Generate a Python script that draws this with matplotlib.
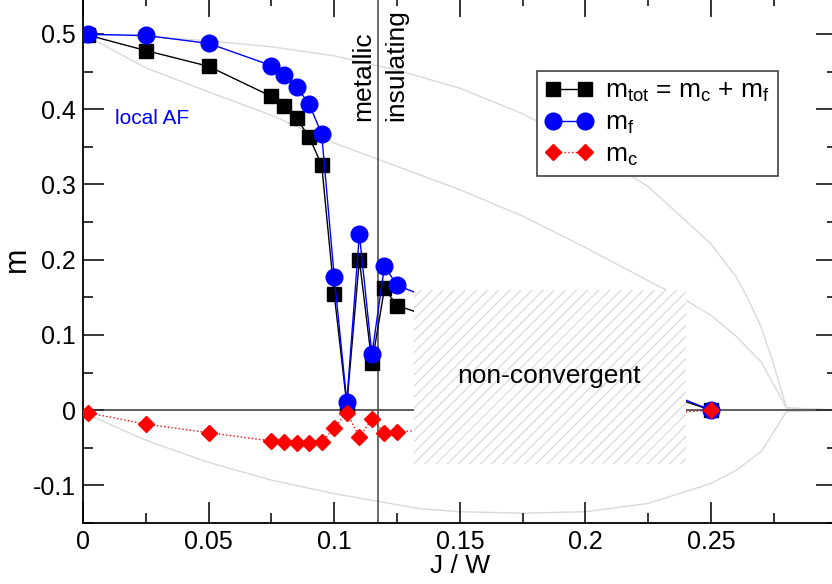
import matplotlib
matplotlib.use("Agg")
import matplotlib.pyplot as plt
from matplotlib.patches import Rectangle
from matplotlib.ticker import MultipleLocator

plt.rcParams['font.family'] = ['Liberation Sans', 'DejaVu Sans']
plt.rcParams['mathtext.fontset'] = 'custom'
plt.rcParams['mathtext.rm'] = 'Liberation Sans'
plt.rcParams['mathtext.it'] = 'Liberation Sans'
plt.rcParams['hatch.linewidth'] = 0.8

# Datenpunkte (J/W und Magnetisierungen)
J = [0.002, 0.025, 0.05, 0.075, 0.08, 0.085, 0.09, 0.095, 0.1, 0.105, 0.11,
     0.115, 0.12, 0.125, 0.25]
m_tot = [0.4985, 0.478, 0.457, 0.417, 0.404, 0.388, 0.363, 0.326, 0.154, 0.007,
         0.200, 0.062, 0.162, 0.139, 0.0]
m_f = [0.4995, 0.498, 0.4875, 0.458, 0.4455, 0.4295, 0.407, 0.367, 0.177, 0.011,
       0.234, 0.074, 0.1915, 0.166, 0.0]
m_c = [-0.0036, -0.0186, -0.030, -0.041, -0.042, -0.0435, -0.0443, -0.043, -0.0235,
       -0.0035, -0.0355, -0.012, -0.030, -0.029, 0.0]

# graue Hintergrundkurven
g1_x = [0.0, 0.025, 0.05, 0.075, 0.1, 0.125, 0.15, 0.175, 0.2, 0.225, 0.25, 0.26,
        0.265, 0.27, 0.275, 0.28, 0.3]
g1_y = [0.5, 0.497, 0.491, 0.483, 0.471, 0.452, 0.428, 0.394, 0.35, 0.297, 0.221,
        0.177, 0.146, 0.11, 0.06, 0.003, 0.0]
g2_x = [0.0, 0.025, 0.05, 0.075, 0.1, 0.125, 0.15, 0.175, 0.2, 0.225, 0.24, 0.25,
        0.26, 0.27, 0.28, 0.3]
g2_y = [0.5, 0.455, 0.423, 0.392, 0.355, 0.324, 0.293, 0.258, 0.216, 0.172, 0.146,
        0.126, 0.098, 0.064, 0.003, 0.0]
g3_x = [0.0, 0.025, 0.05, 0.075, 0.1, 0.117, 0.134, 0.15, 0.175, 0.2, 0.225, 0.25,
        0.26, 0.27, 0.28, 0.3]
g3_y = [-0.003, -0.040, -0.0696, -0.093, -0.111, -0.121, -0.131, -0.135, -0.137,
        -0.135, -0.124, -0.0975, -0.080, -0.055, -0.002, 0.0]

fig = plt.figure(figsize=(8.32, 5.84), dpi=100)
ax = fig.add_axes([0.0998, 0.1045, 0.9058, 0.9017])

grau = '#d9d9d9'
ax.plot(g1_x, g1_y, color=grau, lw=1, zorder=1)
ax.plot(g2_x, g2_y, color=grau, lw=1, zorder=1)
ax.plot(g3_x, g3_y, color=grau, lw=1, zorder=1)

ax.axhline(0, color='#333333', lw=1.1, zorder=2)
ax.axvline(0.1175, color='#444444', lw=1.1, zorder=2)

ax.plot(J, m_tot, 'ks-', lw=1, ms=10, zorder=3,
        label=r'$\mathregular{m_{tot}}$ = $\mathregular{m_c}$ + $\mathregular{m_f}$')
ax.plot(J, m_f, 'o-', color='blue', lw=1, ms=12, zorder=4,
        label=r'$\mathregular{m_f}$')
ax.plot(J, m_c, 'D:', color='red', lw=1, ms=8.5, zorder=5,
        label=r'$\mathregular{m_c}$')

# schraffierter Bereich
box = Rectangle((0.1319, -0.071), 0.240 - 0.1319, 0.231, facecolor='white',
                edgecolor='#d6d6d6', hatch='///', lw=0, zorder=6)
ax.add_patch(box)
ax.text(0.1855, 0.036, 'non-convergent', fontsize=19, ha='center',
        va='baseline', zorder=7)

ax.text(0.0274, 0.380, 'local AF', color='blue', fontsize=15, ha='center',
        va='baseline')
ax.text(0.1142, 0.384, 'metallic', fontsize=19, rotation=90,
        rotation_mode='anchor', ha='left', va='baseline')
ax.text(0.1275, 0.384, 'insulating', fontsize=19, rotation=90,
        rotation_mode='anchor', ha='left', va='baseline')

ax.set_xlim(0, 0.3)
ax.set_ylim(-0.15, 0.55)
ax.xaxis.set_minor_locator(MultipleLocator(0.025))
ax.yaxis.set_minor_locator(MultipleLocator(0.05))
ax.set_xticks([0, 0.05, 0.1, 0.15, 0.2, 0.25])
ax.set_xticklabels(['0', '0.05', '0.1', '0.15', '0.2', '0.25'])
ax.set_yticks([-0.1, 0, 0.1, 0.2, 0.3, 0.4, 0.5])
ax.set_yticklabels(['-0.1', '0', '0.1', '0.2', '0.3', '0.4', '0.5'])
ax.tick_params(which='both', direction='in', top=True, right=True,
               labelsize=18, width=1.1)
ax.tick_params(which='major', length=15)
ax.tick_params(which='minor', length=7)
ax.tick_params(axis='x', which='major', pad=5)
ax.tick_params(axis='y', which='major', pad=5)
for s in ax.spines.values():
    s.set_linewidth(1.3)

ax.set_xlabel('J / W', fontsize=19, labelpad=0)
ax.set_ylabel('m', fontsize=22)
ax.yaxis.set_label_coords(-0.068, 0.5)

leg = ax.legend(loc='upper left', bbox_to_anchor=(0.603, 0.858),
                borderaxespad=0, numpoints=2, fontsize=19, fancybox=False,
                framealpha=1, edgecolor='#333333', handlelength=1.8,
                handletextpad=0.45, labelspacing=0.25, borderpad=0.3)
leg.get_frame().set_linewidth(1.1)

fig.savefig('out.png', dpi=100)
